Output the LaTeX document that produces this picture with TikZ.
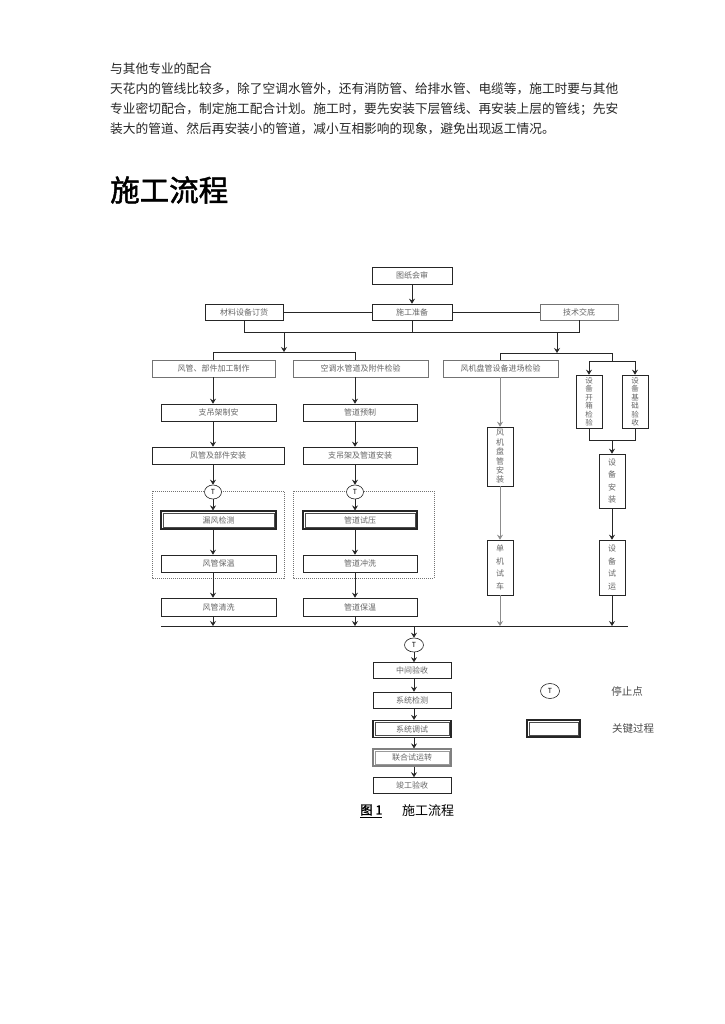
\documentclass[tikz,border=0pt]{standalone}
\usepackage{fontspec}
\setmainfont{Noto Sans CJK SC}
\newfontfamily\titlefont{Noto Sans CJK SC}[FakeBold=1.6]
\usetikzlibrary{arrows.meta,shapes.geometric}
\begin{document}
\begin{tikzpicture}[x=1pt,y=-1pt,
  body/.style={anchor=west, inner sep=0pt, font=\fontsize{12.7}{14}\selectfont, text=black!85},
  box/.style={draw=black!85, line width=0.6pt, inner sep=0pt, align=center, fill=white,
    font=\fontsize{8}{9}\selectfont, text=black!60},
  vbox/.style={box, minimum width=26pt},
  keybox/.style={box, line width=1.2pt},
  inner/.style={draw=black!70, line width=0.5pt},
  stop/.style={ellipse, draw=black!85, line width=0.6pt, fill=white, inner sep=0pt,
    minimum width=17pt, minimum height=14pt, font=\fontsize{7}{7}\selectfont},
  ln/.style={draw=black!85, line width=0.6pt},
  gln/.style={draw=black!45, line width=0.7pt},
  arr/.style={ln, -{Stealth[length=5pt,width=6pt,inset=1.8pt]}},
  garr/.style={gln, -{Stealth[length=5pt,width=6pt,inset=1.8pt]}},
  grp/.style={draw=black!55, line width=0.6pt, dash pattern=on 1pt off 1pt},
  legtext/.style={inner sep=0pt, font=\fontsize{10.5}{12}\selectfont, text=black!70}
]
\fill[white] (0,0) rectangle (724,1024);
\useasboundingbox (0,0) rectangle (724,1024);

% ---- body text ----
\node[body] (t1) at (110,69) {与其他专业的配合};
\node[body] (t2) at (110,89) {天花内的管线比较多，除了空调水管外，还有消防管、给排水管、电缆等，施工时要与其他};
\node[body] (t3) at (110,109) {专业密切配合，制定施工配合计划。施工时，要先安装下层管线、再安装上层的管线；先安};
\node[body] (t4) at (110,129) {装大的管道、然后再安装小的管道，减小互相影响的现象，避免出现返工情况。};
\node[anchor=west, inner sep=0pt, font=\titlefont\fontsize{29.5}{32}\selectfont] (title) at (110,190) {施工流程};

% ---- group frames ----
\draw[grp] (152,491) rectangle (284,578);
\draw[grp] (293,491) rectangle (434,578);

% ---- top rows ----
\node[box, minimum width=80pt, minimum height=17pt] (top) at (412,275.5) {图纸会审};
\node[box, minimum width=78pt, minimum height=16pt] (r2L) at (244,312) {材料设备订货};
\node[box, minimum width=80pt, minimum height=16pt] (r2C) at (412,312) {施工准备};
\node[box, minimum width=78pt, minimum height=16pt, draw=black!55] (r2R) at (579,312) {技术交底};
\draw[arr] (top) -- (r2C);
\draw[ln] (r2L) -- (r2C);
\draw[ln] (r2C) -- (r2R);
\coordinate (b1L) at (244,332);
\coordinate (b1R) at (579,332);
\draw[ln] (r2L.south) -- (b1L) -- (b1R) -- (r2R.south);
\draw[ln] (r2C.south) -- (r2C.south |- b1L);
\coordinate (d1) at (284,332); \coordinate (d1e) at (284,352);
\coordinate (d2) at (557,332); \coordinate (d2e) at (557,353);
\draw[arr] (d1) -- (d1e);
\draw[arr] (d2) -- (d2e);

% ---- row 3 ----
\node[box, minimum width=123pt, minimum height=17pt, draw=black!55] (r3L) at (213.5,368.5) {风管、部件加工制作};
\node[box, minimum width=135pt, minimum height=17pt, draw=black!55] (r3M) at (360.5,368.5) {空调水管道及附件检验};
\node[box, minimum width=115pt, minimum height=17pt, draw=black!55] (r3R) at (500.5,368.5) {风机盘管设备进场检验};
\coordinate (cL) at (213,352);
\coordinate (cM) at (355,352);
\draw[ln] (r3L.north -| cL) -- (cL) -- (cM) -- (r3M.north -| cM);
\coordinate (b2a) at (500,353);
\coordinate (b2b) at (612,353);
\coordinate (b2c) at (612,361);
\draw[ln] (r3R.north -| b2a) -- (b2a) -- (b2b) -- (b2c);
\coordinate (s1) at (589,361);
\coordinate (s2) at (635,361);
\draw[ln] (s1) -- (s2);

% ---- right vertical boxes ----
\node[vbox, minimum height=53pt, font=\fontsize{7.5}{8.5}\selectfont] (vR1) at (589,401.5) {设\\备\\开\\箱\\检\\验};
\node[vbox, minimum height=53pt, font=\fontsize{7.5}{8.5}\selectfont] (vR2) at (635,401.5) {设\\备\\基\\础\\验\\收};
\draw[arr] (s1) -- (vR1);
\draw[arr] (s2) -- (vR2);
\coordinate (j1) at (589,440);
\coordinate (j2) at (635,440);
\coordinate (j3) at (612,440);
\draw[ln] (vR1) -- (j1) -- (j2) -- (vR2);
\node[vbox, minimum height=54pt, font=\fontsize{8}{12.5}\selectfont] (vR3) at (612,481) {设\\备\\安\\装};
\node[vbox, minimum height=55pt, font=\fontsize{8}{12.5}\selectfont] (vR4) at (612,567.5) {设\\备\\试\\运};
\draw[arr] (j3) -- (vR3);
\draw[arr] (vR3) -- (vR4);

% ---- column at x=500 ----
\node[vbox, minimum height=59pt, font=\fontsize{8}{9.4}\selectfont] (v1) at (500,456.5) {风\\机\\盘\\管\\安\\装};
\node[vbox, minimum height=55pt, font=\fontsize{8}{12.5}\selectfont] (v2) at (500,567.5) {单\\机\\试\\车};
\draw[garr] (r3R.south -| v1.north) -- (v1.north);
\draw[garr] (v1) -- (v2);

% ---- left column ----
\node[box, minimum width=115pt, minimum height=17pt] (LA) at (218.5,412.5) {支吊架制安};
\node[box, minimum width=132pt, minimum height=17pt] (LB) at (218,455.5) {风管及部件安装};
\node[stop] (TL) at (213,492) {T};
\node[keybox, minimum width=115pt, minimum height=18pt] (LC) at (218.5,520) {漏风检测};
\node[box, minimum width=115pt, minimum height=17pt] (LD) at (218.5,563.5) {风管保温};
\node[box, minimum width=115pt, minimum height=18pt] (LE) at (218.5,607) {风管清洗};
\draw[arr] (r3L.south -| cL) -- (LA.north -| cL);
\draw[arr] (LA.south -| cL) -- (LB.north -| cL);
\draw[arr] (LB.south -| cL) -- (TL.north);
\draw[arr] (TL.south) -- (LC.north -| cL);
\draw[arr] (LC.south -| cL) -- (LD.north -| cL);
\draw[arr] (LD.south -| cL) -- (LE.north -| cL);

% ---- middle column ----
\node[box, minimum width=114pt, minimum height=17pt] (MA) at (360,412.5) {管道预制};
\node[box, minimum width=114pt, minimum height=17pt] (MB) at (360,455.5) {支吊架及管道安装};
\node[stop] (TM) at (355,492) {T};
\node[keybox, minimum width=114pt, minimum height=18pt] (MC) at (360,520) {管道试压};
\node[box, minimum width=114pt, minimum height=17pt] (MD) at (360,563.5) {管道冲洗};
\node[box, minimum width=114pt, minimum height=18pt] (ME) at (360,607) {管道保温};
\draw[arr] (r3M.south -| cM) -- (MA.north -| cM);
\draw[arr] (MA.south -| cM) -- (MB.north -| cM);
\draw[arr] (MB.south -| cM) -- (TM.north);
\draw[arr] (TM.south) -- (MC.north -| cM);
\draw[arr] (MC.south -| cM) -- (MD.north -| cM);
\draw[arr] (MD.south -| cM) -- (ME.north -| cM);

% ---- collecting bus ----
\coordinate (busL) at (161,626);
\coordinate (busR) at (628,626);
\draw[ln] (busL) -- (busR);
\draw[arr] (LE.south -| cL) -- (cL |- busL);
\draw[arr] (ME.south -| cM) -- (cM |- busL);
\draw[garr] (v2.south) -- (v2.south |- busL);
\draw[arr] (vR4.south) -- (vR4.south |- busL);

% ---- bottom column ----
\coordinate (cB) at (414,626);
\node[stop, minimum width=19pt, minimum height=14pt] (TB) at (414,645) {T};
\node[box, minimum width=78pt, minimum height=16pt] (BA) at (412,670.5) {中间验收};
\node[box, minimum width=78pt, minimum height=16pt] (BB) at (412,700) {系统检测};
\node[keybox, minimum width=78pt, minimum height=17pt] (BC) at (412,729) {系统调试};
\node[keybox, draw=black!50, minimum width=78pt, minimum height=17pt] (BD) at (412,757.5) {联合试运转};
\node[box, minimum width=78pt, minimum height=16pt] (BE) at (412,785.5) {竣工验收};
\draw[arr] (cB) -- (TB.north);
\draw[arr] (TB.south) -- (BA.north -| cB);
\draw[arr] (BA.south -| cB) -- (BB.north -| cB);
\draw[arr] (BB.south -| cB) -- (BC.north -| cB);
\draw[arr] (BC.south -| cB) -- (BD.north -| cB);
\draw[arr] (BD.south -| cB) -- (BE.north -| cB);

% ---- legend ----
\node[stop, minimum width=19pt, minimum height=15pt] (lgT) at (550,691) {T};
\node[legtext] (lgTt) at (627,691) {停止点};
\node[keybox, minimum width=53pt, minimum height=17pt] (lgB) at (553.5,728.5) {};
\node[legtext] (lgBt) at (633,728.5) {关键过程};

% ---- inner frames of key boxes ----
\foreach \n in {LC,MC,BC,lgB}
  \draw[inner] ([shift={(2.6pt,-2.6pt)}]\n.north west) rectangle ([shift={(-2.6pt,2.6pt)}]\n.south east);
\draw[inner, draw=black!40] ([shift={(2.6pt,-2.6pt)}]BD.north west) rectangle ([shift={(-2.6pt,2.6pt)}]BD.south east);

% ---- caption ----
\node[anchor=west, inner sep=0pt, font=\titlefont\fontsize{12.5}{14}\selectfont] (cap1) at (360,811) {\underline{图 1}};
\node[anchor=west, inner sep=0pt, font=\fontsize{13}{14}\selectfont] (cap2) at (402,811) {施工流程};
\end{tikzpicture}
\end{document}
